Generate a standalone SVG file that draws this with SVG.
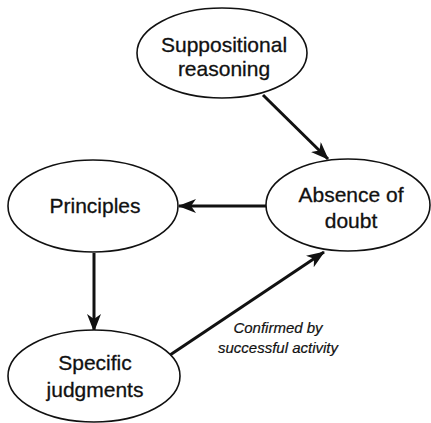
<svg xmlns="http://www.w3.org/2000/svg" width="431" height="423" viewBox="0 0 431 423">
<style>
.node ellipse{fill:#fff;stroke:#111;stroke-width:1.6}
.node text{font-family:"Liberation Sans",Arial,sans-serif;font-size:21px;fill:#111;text-anchor:middle;stroke:#111;stroke-width:0.3}
.edge{stroke:#111;stroke-width:3;fill:none;marker-end:url(#ah)}
.lbl{font-family:"Liberation Sans",Arial,sans-serif;font-size:15px;font-style:italic;fill:#111;text-anchor:middle;stroke:#111;stroke-width:0.2}
</style>
<defs>
<marker id="ah" markerUnits="userSpaceOnUse" markerWidth="20" markerHeight="14" refX="17" refY="7" orient="auto">
<path d="M0,0 L18,7 L0,14 L5,7 z" fill="#111"/>
</marker>
</defs>
<rect width="431" height="423" fill="#fff"/>
<g id="edges">
<line class="edge" x1="263" y1="95" x2="328" y2="159"/>
<line class="edge" x1="266" y1="206" x2="179" y2="206"/>
<line class="edge" x1="94" y1="253" x2="94" y2="331"/>
<line class="edge" x1="170" y1="355" x2="324" y2="252"/>
<text class="lbl" x="278" y="333">Confirmed by</text>
<text class="lbl" x="278" y="353">successful activity</text>
</g>
<g id="suppositional" class="node">
<ellipse cx="222" cy="53" rx="85" ry="45"/>
<text x="224" y="52">Suppositional</text>
<text x="224" y="76">reasoning</text>
</g>
<g id="absence" class="node">
<ellipse cx="348" cy="205" rx="82" ry="46"/>
<text x="351" y="202">Absence of</text>
<text x="351" y="228">doubt</text>
</g>
<g id="principles" class="node">
<ellipse cx="93" cy="206" rx="85" ry="46"/>
<text x="95" y="213">Principles</text>
</g>
<g id="specific" class="node">
<ellipse cx="94" cy="376" rx="86" ry="46"/>
<text x="95" y="370">Specific</text>
<text x="95" y="397">judgments</text>
</g>
</svg>
